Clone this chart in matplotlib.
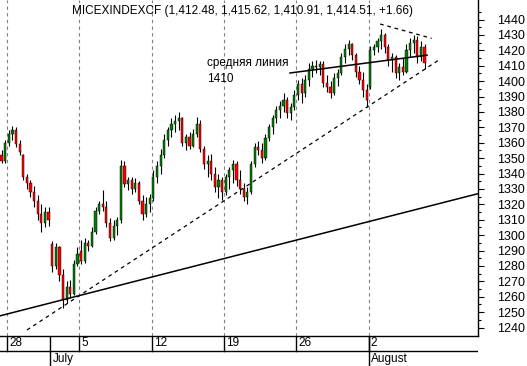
import numpy as np
import matplotlib
matplotlib.use('Agg')
import matplotlib.pyplot as plt

matplotlib.rcParams.update({'font.size': 8.5, 'font.family': ['Liberation Sans', 'DejaVu Sans']})

###----------------------------------------------------------------------------
### data: 4 intraday bars per trading day, 25 June .. 5 August
days = ['25', '28', '29', '30', '1', '2', '5', '6', '7', '8', '9',
        '12', '13', '14', '15', '16', '19', '20', '21', '22', '23',
        '26', '27', '28', '29', '30', '2', '3', '4', '5']
monday_labels = ['28', '5', '12', '19', '26', '2']
monday_days = [1, 6, 11, 16, 21, 26]          # index in days
month_labels = ['July', 'August']
month_days = [4, 26]

opens = [1352, 1350, 1352, 1348,  1360, 1366, 1368, 1359,  1352, 1338, 1334, 1328,
         1322, 1314, 1308, 1315,  1294, 1280, 1292, 1274,  1258, 1266, 1262, 1281,
         1290, 1283, 1295, 1293,  1302, 1316, 1320, 1318,  1308, 1298, 1306, 1310,
         1345, 1333, 1336, 1330,  1334, 1322, 1314, 1320,  1324, 1338, 1345, 1352,
         1362, 1368, 1372, 1374,  1376, 1360, 1364, 1358,  1366, 1372, 1356, 1346,
         1348, 1340, 1331, 1336,  1328, 1338, 1342, 1346,  1336, 1330, 1325, 1328,
         1346, 1357, 1355, 1350,  1363, 1370, 1376, 1381,  1384, 1388, 1379, 1383,
         1391, 1398, 1392, 1401,  1408, 1410, 1409, 1411,  1399, 1396, 1392, 1402,
         1405, 1416, 1421, 1424,  1417, 1406, 1401, 1394,  1396, 1420, 1422, 1426,
         1430, 1422, 1414, 1416,  1405, 1409, 1406, 1420,  1425, 1427, 1416, 1422]
highs = [1356, 1354, 1355, 1362,  1368, 1371, 1370, 1362,  1353, 1340, 1336, 1332,
         1326, 1320, 1318, 1318,  1296, 1295, 1293, 1278,  1270, 1271, 1284, 1292,
         1297, 1298, 1297, 1305,  1318, 1322, 1329, 1322,  1311, 1310, 1312, 1349,
         1348, 1338, 1338, 1337,  1335, 1326, 1325, 1327,  1342, 1348, 1356, 1366,
         1370, 1376, 1378, 1380,  1377, 1366, 1367, 1369,  1377, 1375, 1358, 1352,
         1353, 1344, 1340, 1338,  1340, 1344, 1349, 1348,  1342, 1334, 1331, 1348,
         1360, 1361, 1360, 1366,  1372, 1378, 1384, 1387,  1392, 1390, 1386, 1394,
         1401, 1402, 1404, 1412,  1413, 1414, 1413, 1413,  1404, 1400, 1405, 1408,
         1418, 1424, 1427, 1425,  1418, 1410, 1406, 1398,  1423, 1424, 1428, 1434,
         1431, 1424, 1418, 1417,  1412, 1415, 1424, 1428,  1430, 1429, 1426, 1424]
lows = [1346, 1345, 1347, 1347,  1358, 1362, 1357, 1352,  1336, 1330, 1325, 1318,
        1310, 1302, 1305, 1306,  1276, 1278, 1270, 1253,  1256, 1259, 1261, 1280,
        1281, 1282, 1290, 1292,  1301, 1314, 1316, 1305,  1296, 1297, 1300, 1308,
        1331, 1329, 1327, 1328,  1320, 1310, 1312, 1315,  1322, 1334, 1340, 1350,
        1358, 1364, 1367, 1368,  1358, 1355, 1356, 1357,  1364, 1354, 1343, 1338,
        1336, 1328, 1324, 1323,  1326, 1330, 1334, 1332,  1327, 1322, 1320, 1327,
        1344, 1352, 1347, 1349,  1361, 1366, 1373, 1376,  1380, 1376, 1375, 1381,
        1388, 1386, 1390, 1397,  1403, 1405, 1404, 1396,  1393, 1389, 1391, 1397,
        1404, 1412, 1417, 1414,  1403, 1398, 1390, 1383,  1395, 1417, 1419, 1421,
        1418, 1410, 1406, 1402,  1401, 1404, 1405, 1416,  1418, 1412, 1413, 1408]
closes = [1350, 1352, 1348, 1360,  1366, 1368, 1359, 1354,  1338, 1334, 1328, 1322,
          1314, 1308, 1315, 1310,  1280, 1292, 1274, 1258,  1266, 1262, 1281, 1288,
          1283, 1295, 1293, 1302,  1316, 1320, 1318, 1308,  1298, 1306, 1310, 1345,
          1333, 1336, 1330, 1334,  1322, 1314, 1320, 1324,  1338, 1345, 1352, 1362,
          1368, 1372, 1374, 1376,  1360, 1364, 1358, 1366,  1372, 1356, 1346, 1348,
          1340, 1331, 1336, 1328,  1338, 1342, 1346, 1336,  1330, 1325, 1328, 1346,
          1357, 1355, 1350, 1363,  1370, 1376, 1381, 1384,  1388, 1379, 1383, 1391,
          1398, 1392, 1401, 1408,  1410, 1409, 1411, 1399,  1396, 1392, 1402, 1405,
          1416, 1421, 1424, 1417,  1406, 1401, 1394, 1388,  1420, 1422, 1426, 1430,
          1422, 1414, 1416, 1405,  1409, 1406, 1420, 1425,  1427, 1416, 1422, 1412]

### trend lines (day index, value)
base_line = ([0.52, 33.6], [1247.6, 1327.0])
support_line = ([2.38, 30.94], [1238.4, 1414.2])
resist_line = ([26.8, 30.37], [1437.1, 1427.8])
mid_line = ([20.57, 30.05], [1405.3, 1416.9])

title = 'MICEXINDEXCF (1,412.48, 1,415.62, 1,410.91, 1,414.51, +1.66)'

###----------------------------------------------------------------------------
opens = np.array(opens); highs = np.array(highs)
lows = np.array(lows); closes = np.array(closes)
nbar = 4
xpos = np.arange(len(closes)) // nbar + (np.arange(len(closes)) % nbar + 0.5) / nbar

fig = plt.figure(figsize=(5.27, 3.66), dpi=100)
W, H = 527.0, 366.0
ax = fig.add_axes([0, 30 / H, 478 / W, 336 / H])
band = fig.add_axes([0, 0, 478 / W, 30 / H])

xmin, xmax = 1 - 7 / 14.46, 1 + 471 / 14.46
ax.set_xlim(xmin, xmax)
ax.set_ylim(1234.5, 1452.7)

### monday grid
for d in monday_days:
    ax.axvline(d, color='#808080', lw=0.8, ls=(0, (3, 3)), zorder=0)

### candles
up = closes >= opens
ax.vlines(xpos, lows, highs, color='black', lw=0.8, zorder=2)
ax.bar(xpos[up], (closes - opens)[up], bottom=opens[up], width=0.15,
       color='#008000', edgecolor='black', lw=0.3, zorder=3)
ax.bar(xpos[~up], (closes - opens)[~up], bottom=opens[~up], width=0.15,
       color='#ff0000', edgecolor='black', lw=0.3, zorder=3)

### lines
ax.plot(*base_line, color='black', lw=1.1, zorder=4)
ax.plot(*support_line, color='black', lw=0.9, ls=(0, (3, 3)), zorder=4)
ax.plot(*resist_line, color='black', lw=0.9, ls=(0, (3, 3)), zorder=4)
ax.plot(*mid_line, color='black', lw=1.1, zorder=4)

ax.text(72 / 478, 1 - 11 / 336, title, transform=ax.transAxes, va='center', ha='left', fontsize=8.5)
ax.text(207 / 478, 1 - 63 / 336, 'средняя линия', transform=ax.transAxes, va='center', ha='left', fontsize=8.5)
ax.text(207 / 478, 1 - 79 / 336, '1410', transform=ax.transAxes, va='center', ha='left', fontsize=8.5)

### axes style
for s in ['top', 'left']:
    ax.spines[s].set_visible(False)
ax.spines['right'].set_linewidth(1.0)
ax.spines['bottom'].set_linewidth(1.0)
ax.set_xticks([])
ax.yaxis.tick_right()
ax.set_yticks(np.arange(1240, 1441, 10))
ax.set_yticks(np.arange(1245, 1446, 10), minor=True)
ax.tick_params(axis='y', which='major', length=4.3, width=0.8, pad=9.2, labelsize=9)
ax.tick_params(axis='y', which='minor', length=2.2, width=0.8)

### date band
band.set_xlim(xmin, xmax)
band.set_ylim(0, 2)
band.axis('off')
band.axhline(1, color='black', lw=1.0)
for d, lab in zip(monday_days, monday_labels):
    band.plot([d, d], [1, 2], color='black', lw=1.0)
    band.text(d + 0.14, 1.5, lab, va='center', ha='left', fontsize=8.5)
for d, lab in zip(month_days, month_labels):
    band.plot([d, d], [0, 2], color='black', lw=1.0)
    band.text(d + 0.14, 0.45, lab, va='center', ha='left', fontsize=8.5)

fig.savefig('out.png', dpi=100)
